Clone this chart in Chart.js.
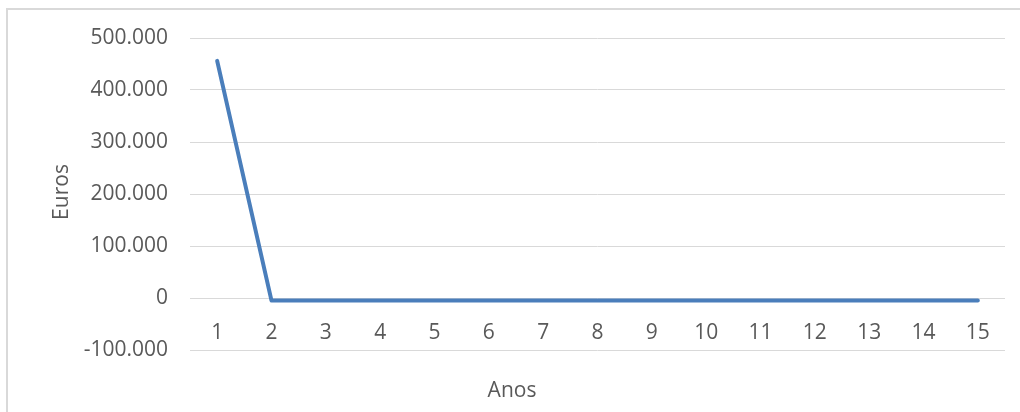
<!DOCTYPE html>
<html>
<head>
<meta charset="utf-8">
<script src="https://cdn.jsdelivr.net/npm/chart.js@4/dist/chart.umd.min.js"></script>
<style>
  html, body { margin: 0; padding: 0; background: #fff; overflow: hidden; }
  #wrap { position: relative; width: 1020px; height: 412px; }
  #frame { position: absolute; left: 6px; top: 8px; width: 1100px; height: 500px;
           border: 2px solid #d9d9d9; box-sizing: border-box; pointer-events: none; }
  canvas { position: absolute; left: 0; top: 0; }
</style>
</head>
<body>
<div id="wrap">
  <div id="frame"></div>
  <canvas id="c" width="1020" height="412"></canvas>
</div>
<script>
// Cash flow per year
const anos = ['1','2','3','4','5','6','7','8','9','10','11','12','13','14','15'];
const euros = [456000, -5000, -5000, -5000, -5000, -5000, -5000, -5000, -5000, -5000, -5000, -5000, -5000, -5000, -5000];
const yTicks = [-100000, 0, 100000, 200000, 300000, 400000, 500000];
const xTitle = 'Anos';
const yTitle = 'Euros';

const textColor = '#595959';
const fontFamily = '"Open Sans", "DejaVu Sans", sans-serif';

function formatPt(v) {
  const s = Math.abs(v).toString().replace(/\B(?=(\d{3})+(?!\d))/g, '.');
  return (v < 0 ? '-' : '') + s;
}

// Axis titles placed relative to the canvas
const axisTitles = {
  id: 'axisTitles',
  afterDraw(chart) {
    const ctx = chart.ctx;
    ctx.save();
    ctx.fillStyle = textColor;
    ctx.font = '21px ' + fontFamily;
    ctx.textAlign = 'center';
    ctx.textBaseline = 'middle';
    ctx.fillText(xTitle, 512, 391);
    ctx.translate(62, 192);
    ctx.rotate(-Math.PI / 2);
    ctx.fillText(yTitle, 0, 0);
    ctx.restore();
  }
};

new Chart(document.getElementById('c'), {
  type: 'line',
  data: {
    labels: anos,
    datasets: [{
      data: euros,
      borderColor: '#4a7ebb',
      borderWidth: 4,
      borderCapStyle: 'round',
      borderJoinStyle: 'round',
      pointRadius: 0,
      tension: 0,
      fill: false
    }]
  },
  options: {
    responsive: false,
    animation: false,
    devicePixelRatio: 1,
    layout: { padding: { top: 38, right: 15, bottom: 62, left: 0 } },
    plugins: { legend: { display: false }, tooltip: { enabled: false } },
    scales: {
      x: {
        type: 'category',
        offset: true,
        position: { y: 0 },
        grid: { display: false },
        border: { display: false },
        ticks: {
          color: textColor,
          font: { family: fontFamily, size: 21 },
          padding: 14,
          maxRotation: 0,
          autoSkip: false
        },
        afterFit(scale) { scale.height = 0; }
      },
      y: {
        min: -100000,
        max: 500000,
        afterBuildTicks(scale) { scale.ticks = yTicks.map(v => ({ value: v })); },
        grid: { color: '#d9d9d9', lineWidth: 1, drawTicks: false },
        border: { display: false },
        ticks: {
          color: textColor,
          font: { family: fontFamily, size: 21 },
          padding: 22,
          callback: v => formatPt(v)
        },
        afterFit(scale) { scale.width = 190; }
      }
    }
  },
  plugins: [axisTitles]
});
</script>
</body>
</html>
